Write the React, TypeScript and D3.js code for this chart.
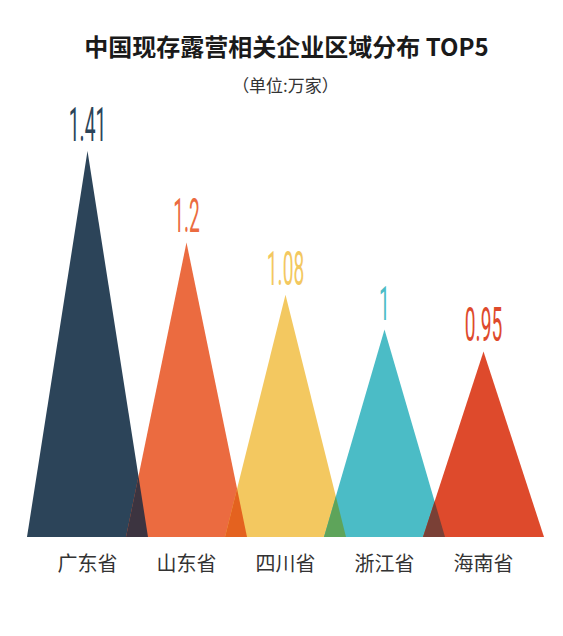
import React from 'react';
import * as d3 from 'd3';

const provinces = ['广东省', '山东省', '四川省', '浙江省', '海南省'];
const counts = [1.41, 1.2, 1.08, 1, 0.95];
const valueLabels = ['1.41', '1.2', '1.08', '1', '0.95'];

const colors = ['#2c4459', '#eb6b40', '#f3c860', '#4bbcc6', '#de4a2c'];
const overlapColors = ['#3c3440', '#e4621f', '#5ea45a', '#7a4036'];

const App = () => {
  const width = 563;
  const height = 636;
  const baseline = 537;
  const halfBase = 60.5;

  const x = d3.scalePoint<string>().domain(provinces).range([87.5, 483.5]);
  const y = d3.scaleLinear().domain([0.524, 1.41]).range([baseline, 151]);

  const tri = (i: number) => {
    const cx = x(provinces[i]) as number;
    const pts: [number, number][] = [
      [cx - halfBase, baseline],
      [cx, y(counts[i])],
      [cx + halfBase, baseline],
    ];
    return (d3.line()(pts) as string) + 'Z';
  };

  return (
    <svg
      width={width}
      height={height}
      style={{ position: 'absolute', left: 0, top: 0, background: '#fff' }}
    >
      <defs>
        {provinces.map((p, i) => (
          <clipPath id={`clip-${i}`} key={p}>
            <path d={tri(i)} />
          </clipPath>
        ))}
      </defs>
      <text
        x={286.5}
        y={56}
        textAnchor="middle"
        fontFamily="'Noto Sans CJK SC', sans-serif"
        fontWeight={700}
        fontSize={24}
        fill="#1a1a1a"
      >
        中国现存露营相关企业区域分布 TOP5
      </text>
      <text
        x={285.5}
        y={92}
        textAnchor="middle"
        fontFamily="'Noto Sans CJK SC', sans-serif"
        fontSize={17}
        fill="#333"
      >
        （单位:万家）
      </text>

      {provinces.map((p, i) => (
        <path key={p} d={tri(i)} fill={colors[i]} />
      ))}
      {overlapColors.map((c, i) => (
        <path key={i} d={tri(i + 1)} fill={c} clipPath={`url(#clip-${i})`} />
      ))}

      {provinces.map((p, i) => (
        <text
          key={p}
          transform={`translate(${x(p)},${y(counts[i]) - 10}) scale(0.4,1)`}
          textAnchor="middle"
          fontFamily="Roboto, sans-serif"
          fontWeight={400}
          fontSize={48}
          fill={colors[i]}
        >
          {valueLabels[i]}
        </text>
      ))}

      {provinces.map((p) => (
        <text
          key={p}
          x={x(p)}
          y={571}
          textAnchor="middle"
          fontFamily="'Noto Sans CJK SC', sans-serif"
          fontSize={20}
          fill="#333"
        >
          {p}
        </text>
      ))}
    </svg>
  );
};

export default App;
